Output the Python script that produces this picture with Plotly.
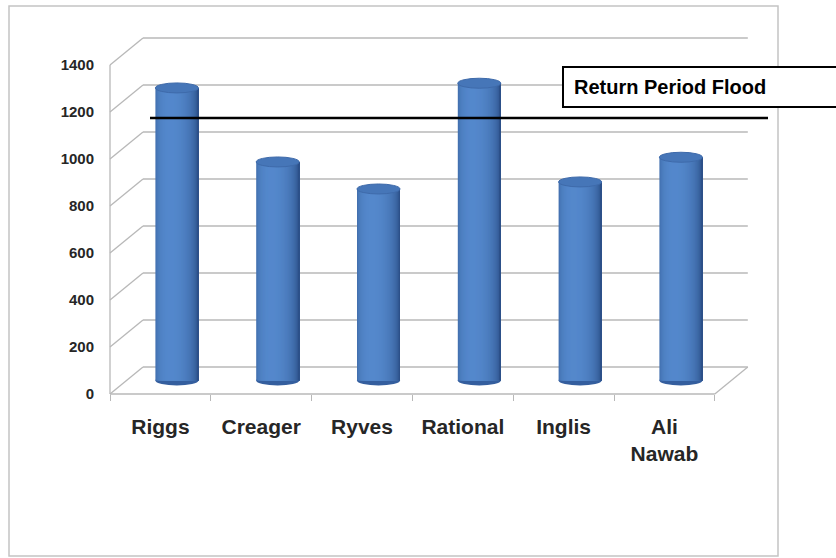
import numpy as np
import plotly.graph_objects as go

# ---- data -------------------------------------------------------------
categories = ["Riggs", "Creager", "Ryves", "Rational", "Inglis", "Ali<br>Nawab"]
peak_flows = [1245, 930, 815, 1265, 845, 950]
return_period_flood = 1117
y_ticks = [0, 200, 400, 600, 800, 1000, 1200, 1400]

# ---- geometry of the pseudo-3D box (front plane in axis units) -------
W, H = 836, 558
ZERO_PX = 394          # pixel row of value 0 on the front plane
PX_PER_UNIT = 0.235    # vertical scale
FIRST_CAT_PX = 160.4   # pixel column of the first category
CAT_PX = 100.8         # pixels per category

DEPTH_DX = 33 / CAT_PX          # back wall shift, category units
DEPTH_DY = 27 / PX_PER_UNIT     # back wall lift, value units
MID_DX, MID_DY = DEPTH_DX / 2, DEPTH_DY / 2

BAR_W = 43 / CAT_PX
ELL_RY = 5 / PX_PER_UNIT

x_range = [(0 - FIRST_CAT_PX) / CAT_PX, (W - FIRST_CAT_PX) / CAT_PX]
y_range = [-(H - ZERO_PX) / PX_PER_UNIT, ZERO_PX / PX_PER_UNIT]

n_cat = len(categories)
x_lo, x_hi = -0.5, n_cat - 0.5
y_top = y_ticks[-1]

GRID = "#b8b8b8"
FONT = "Arial, Liberation Sans, sans-serif"

fig = go.Figure()

# ---- cylinders: vertical strips shaded like a lit cylinder ------------
N_STRIPS = 43
dark = np.array([30, 62, 115])
light = np.array([84, 136, 204])
strip_w = BAR_W / N_STRIPS
left_off = MID_DX - BAR_W / 2
for k in range(N_STRIPS):
    t = (k + 0.5) / N_STRIPS
    theta = np.arcsin(2 * t - 1)
    b = 0.25 + 0.75 * max(0.0, np.cos(theta + 0.3)) ** 0.8
    r, g, bl = (dark + (light - dark) * b).round().astype(int)
    # each strip extends to the right edge so neighbours never leave seams
    fig.add_trace(go.Bar(
        x=categories,
        y=peak_flows,
        base=MID_DY,
        offset=left_off + k * strip_w,
        width=BAR_W - k * strip_w,
        marker=dict(color=f"rgb({r},{g},{bl})", line=dict(width=0)),
        hoverinfo="skip",
        showlegend=False,
    ))

shapes = []

# back wall gridlines and side-wall diagonals
for v in y_ticks:
    shapes.append(dict(type="line", xref="x", yref="y", layer="below",
                       x0=x_lo + DEPTH_DX, x1=x_hi + DEPTH_DX,
                       y0=v + DEPTH_DY, y1=v + DEPTH_DY,
                       line=dict(color=GRID, width=1.3)))
    shapes.append(dict(type="line", xref="x", yref="y", layer="below",
                       x0=x_lo, x1=x_lo + DEPTH_DX, y0=v, y1=v + DEPTH_DY,
                       line=dict(color=GRID, width=1.3)))

# value axis line and floor edges
shapes.append(dict(type="line", xref="x", yref="y", layer="below",
                   x0=x_lo, x1=x_lo, y0=0, y1=y_top,
                   line=dict(color=GRID, width=1.3)))
shapes.append(dict(type="line", xref="x", yref="y", layer="below",
                   x0=x_lo, x1=x_hi, y0=0, y1=0,
                   line=dict(color=GRID, width=1.3)))
shapes.append(dict(type="line", xref="x", yref="y", layer="below",
                   x0=x_hi, x1=x_hi + DEPTH_DX, y0=0, y1=DEPTH_DY,
                   line=dict(color=GRID, width=1.3)))

# rounded bottoms and tops of the cylinders
for i, v in enumerate(peak_flows):
    cx = i + MID_DX
    shapes.append(dict(type="circle", xref="x", yref="y", layer="below",
                       x0=cx - BAR_W / 2, x1=cx + BAR_W / 2,
                       y0=MID_DY - ELL_RY, y1=MID_DY + ELL_RY,
                       fillcolor="rgb(52,94,158)", line=dict(width=0)))
    shapes.append(dict(type="circle", xref="x", yref="y", layer="above",
                       x0=cx - BAR_W / 2, x1=cx + BAR_W / 2,
                       y0=v + MID_DY - ELL_RY, y1=v + MID_DY + ELL_RY,
                       fillcolor="rgb(70,118,184)",
                       line=dict(color="rgb(62,106,170)", width=1)))

# return period flood line
shapes.append(dict(type="line", xref="x", yref="y", layer="above",
                   x0=(150 - FIRST_CAT_PX) / CAT_PX, x1=(768 - FIRST_CAT_PX) / CAT_PX,
                   y0=return_period_flood + MID_DY, y1=return_period_flood + MID_DY,
                   line=dict(color="black", width=2.5)))

# outer chart border
shapes.append(dict(type="rect", xref="paper", yref="paper", layer="below",
                   x0=9 / W, x1=778 / W, y0=1 - 556 / H, y1=1 - 6 / H,
                   line=dict(color="#c4c4c4", width=1.5)))

# label box
shapes.append(dict(type="rect", xref="paper", yref="paper", layer="above",
                   x0=563 / W, x1=1.05, y0=1 - 107 / H, y1=1 - 67 / H,
                   fillcolor="white", line=dict(color="black", width=2)))

fig.add_annotation(text="<b>Return Period Flood</b>", xref="paper", yref="paper",
                   x=572 / W, y=1 - 87 / H, xanchor="left", yanchor="middle",
                   showarrow=False, font=dict(family=FONT, size=20, color="black"))

fig.update_layout(
    width=W, height=H,
    margin=dict(l=0, r=0, t=0, b=0),
    paper_bgcolor="white", plot_bgcolor="white",
    barmode="overlay",
    shapes=shapes,
    showlegend=False,
    xaxis=dict(
        type="category", categoryorder="array", categoryarray=categories,
        range=x_range, anchor="free", position=(H - ZERO_PX) / H,
        showgrid=False, zeroline=False, showline=False,
        ticks="outside", tickson="boundaries", ticklen=6,
        tickcolor=GRID, tickwidth=1.3,
        ticklabelstandoff=18,
        tickfont=dict(family=FONT, size=21, color="#262626", weight="bold"),
    ),
    yaxis=dict(
        range=y_range, anchor="free", position=110 / W,
        tickvals=y_ticks, ticktext=[str(v) for v in y_ticks],
        showgrid=False, zeroline=False, showline=False, ticks="",
        ticklabelstandoff=16,
        tickfont=dict(family=FONT, size=15, color="#262626", weight="bold"),
    ),
)

fig.write_html("out.html")
